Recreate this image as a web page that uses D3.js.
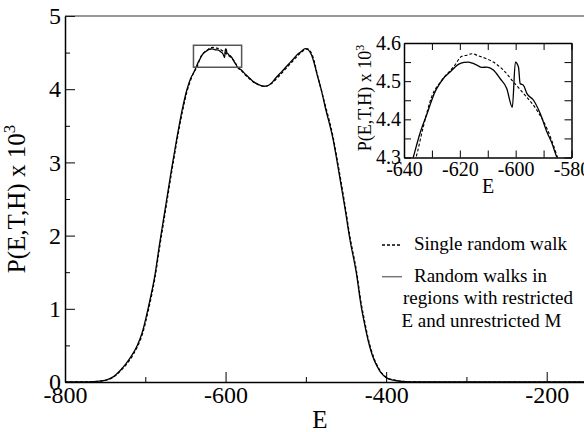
<!DOCTYPE html>
<html>
<head>
<meta charset="utf-8">
<script src="https://cdn.jsdelivr.net/npm/d3@7"></script>
<style>
  body { margin: 0; background: #fff; }
  .axis path, .axis line { stroke: #000; }
</style>
</head>
<body>
<div id="chart"></div>
<script>
const width = 584;
const height = 432;

// single random walk (dashed)
const singleWalk = [
  [-800, 0], [-780, 0.001], [-765, 0.004], [-755, 0.013], [-748, 0.027], [-740, 0.063],
  [-731, 0.15], [-724, 0.235], [-717, 0.34], [-710, 0.48], [-704, 0.64], [-696, 0.99],
  [-688, 1.42], [-682, 1.85], [-675, 2.33], [-668, 2.81], [-661, 3.27], [-654, 3.68],
  [-648, 3.97], [-643, 4.14], [-639, 4.24], [-635.7, 4.30], [-633.1, 4.38], [-630.1, 4.459],
  [-626.5, 4.502], [-622.3, 4.537], [-619.3, 4.565], [-617.5, 4.568], [-615.7, 4.572],
  [-613.5, 4.567], [-611.6, 4.562], [-608, 4.550], [-604.4, 4.529], [-600.8, 4.498],
  [-596.6, 4.463], [-592.4, 4.424], [-588.8, 4.376], [-585.9, 4.32], [-585, 4.30],
  [-580, 4.25], [-575, 4.19], [-570, 4.14], [-565, 4.095], [-560, 4.065], [-555, 4.045],
  [-551, 4.04], [-547, 4.05], [-542, 4.085], [-536, 4.15], [-530, 4.22], [-525, 4.28],
  [-520, 4.34], [-515, 4.40], [-510, 4.46], [-505, 4.51], [-501, 4.545], [-498, 4.55],
  [-494, 4.51], [-490, 4.40], [-487, 4.26], [-482, 4.04], [-476, 3.79], [-466, 3.34],
  [-458.6, 2.89], [-451.5, 2.43], [-445, 1.98], [-437, 1.52], [-431, 1.07], [-427, 0.84],
  [-422.5, 0.60], [-415, 0.32], [-410, 0.20], [-406, 0.13], [-400, 0.065], [-391, 0.028],
  [-380, 0.009], [-370, 0.002], [-350, 0], [-100, 0]
];

// random walks in restricted-E regions (solid)
const restrictedWalk = [
  [-800, 0], [-780, 0.001], [-765, 0.005], [-755, 0.015], [-748, 0.03], [-740, 0.07],
  [-731, 0.16], [-724, 0.25], [-717, 0.36], [-710, 0.50], [-704, 0.67], [-696, 1.03],
  [-688, 1.46], [-682, 1.90], [-675, 2.38], [-668, 2.86], [-661, 3.31], [-654, 3.72],
  [-648, 4.00], [-643, 4.16], [-640, 4.22], [-636.7, 4.30], [-634.3, 4.363], [-631.3, 4.424],
  [-630.7, 4.437], [-628.9, 4.472], [-627.5, 4.49], [-625.9, 4.507], [-623.5, 4.524],
  [-620.5, 4.544], [-618.5, 4.549], [-616.9, 4.550], [-615.5, 4.547], [-613.9, 4.542],
  [-612.1, 4.536], [-610.3, 4.537], [-608, 4.529], [-605.6, 4.507], [-603.2, 4.481],
  [-601.2, 4.432], [-600.1, 4.550], [-599.0, 4.537], [-598.4, 4.494], [-597.2, 4.489],
  [-596, 4.468], [-593.6, 4.45], [-591.2, 4.415], [-588.8, 4.367], [-587.0, 4.337],
  [-585.2, 4.30], [-580, 4.26], [-575, 4.20], [-570, 4.15], [-565, 4.10], [-560, 4.07],
  [-555, 4.045], [-552, 4.04], [-548, 4.045], [-543, 4.08], [-537, 4.16], [-530, 4.24],
  [-525, 4.30], [-520, 4.36], [-515, 4.42], [-510, 4.48], [-505, 4.52], [-501, 4.555],
  [-497, 4.54], [-493, 4.47], [-489, 4.33], [-486, 4.20], [-481, 4.00], [-476, 3.76],
  [-466, 3.31], [-458.6, 2.85], [-451.5, 2.39], [-445, 1.94], [-437, 1.48], [-431, 1.03],
  [-427, 0.80], [-422.5, 0.57], [-415, 0.30], [-410, 0.19], [-406, 0.12], [-400, 0.06],
  [-391, 0.025], [-380, 0.008], [-370, 0.002], [-350, 0], [-100, 0]
];

const xMajor = [-800, -600, -400, -200];
const xMinor = [-700, -500, -300];
const yMajor = [0, 1, 2, 3, 4, 5];
const yMinor = [0.5, 1.5, 2.5, 3.5, 4.5];

const insetXTicks = [-640, -620, -600, -580];
const insetXAll = [-640, -630, -620, -610, -600, -590, -580];
const insetYTicks = [4.3, 4.4, 4.5, 4.6];
const insetYAll = [4.3, 4.35, 4.4, 4.45, 4.5, 4.55, 4.6];
const zoomBox = { x0: -640, x1: -580, y0: 4.3, y1: 4.6 };

const legendItems = [
  { dash: "3,2", color: "#000", lines: ["Single random walk"] },
  { dash: null, color: "#777", lines: ["Random walks in", "regions with restricted", "E and unrestricted M"] }
];

const serif = "Liberation Serif";

const svg = d3.select("#chart").append("svg")
    .attr("width", width)
    .attr("height", height)
    .style("font-family", serif);

// hyphen instead of unicode minus, as in the reference
const plain = d => String(d);

// Escalas principais
const x = d3.scaleLinear().domain([-800, -100]).range([65, 627]);
const y = d3.scaleLinear().domain([0, 5]).range([382, 16]);

const line = d3.line()
    .x(d => x(d[0]))
    .y(d => y(d[1]))
    .curve(d3.curveMonotoneX);

const styleAxis = (g, size) => {
    g.attr("font-family", null);
    g.selectAll("text").attr("font-size", size).style("font-family", serif);
    g.select(".domain").attr("stroke-width", 1.5);
};

// minor ticks
svg.append("g").attr("class", "axis")
    .attr("transform", `translate(0,${y(0)})`)
    .call(d3.axisBottom(x).tickValues(xMinor).tickSize(-5).tickFormat(""))
    .call(g => g.select(".domain").remove());
svg.append("g").attr("class", "axis")
    .attr("transform", `translate(${x(-800)},0)`)
    .call(d3.axisLeft(y).tickValues(yMinor).tickSize(-5).tickFormat(""))
    .call(g => g.select(".domain").remove());

// major axes
svg.append("g").attr("class", "axis")
    .attr("transform", `translate(0,${y(0)})`)
    .call(d3.axisBottom(x).tickValues(xMajor).tickSize(-10).tickPadding(4).tickSizeOuter(0).tickFormat(plain))
    .call(g => styleAxis(g, 24));
svg.append("g").attr("class", "axis")
    .attr("transform", `translate(${x(-800)},0)`)
    .call(d3.axisLeft(y).tickValues(yMajor).tickSize(-10).tickPadding(4).tickSizeOuter(0).tickFormat(plain))
    .call(g => styleAxis(g, 24));

// top frame
svg.append("line")
    .attr("x1", x(-800)).attr("x2", x(-100))
    .attr("y1", y(5)).attr("y2", y(5))
    .attr("stroke", "#333").attr("stroke-width", 1.2);

// curves
svg.append("path").datum(singleWalk)
    .attr("d", line).attr("fill", "none")
    .attr("stroke", "#000").attr("stroke-width", 1.2).attr("stroke-dasharray", "3,2");
svg.append("path").datum(restrictedWalk)
    .attr("d", line).attr("fill", "none")
    .attr("stroke", "#000").attr("stroke-width", 1.3);

// zoom rectangle
svg.append("rect")
    .attr("x", x(zoomBox.x0)).attr("y", y(zoomBox.y1))
    .attr("width", x(zoomBox.x1) - x(zoomBox.x0))
    .attr("height", y(zoomBox.y0) - y(zoomBox.y1))
    .attr("fill", "none").attr("stroke", "#555").attr("stroke-width", 1.5);

// axis titles
svg.append("text")
    .attr("x", 320).attr("y", 428)
    .attr("text-anchor", "middle").attr("font-size", 25)
    .text("E");

const yTitle = svg.append("text")
    .attr("transform", "translate(25,199) rotate(-90)")
    .attr("text-anchor", "middle").attr("font-size", 25);
yTitle.append("tspan").text("P(E,T,H) x 10");
yTitle.append("tspan").attr("dy", -10).attr("font-size", 17).text("3");

// legend
const lg = svg.append("g").attr("class", "legend");
legendItems.forEach((item, i) => {
    const ypos = i === 0 ? 245 : 276.7;
    lg.append("line")
        .attr("x1", 382).attr("x2", 402)
        .attr("y1", ypos).attr("y2", ypos)
        .attr("stroke", item.color).attr("stroke-width", 1.5)
        .attr("stroke-dasharray", item.dash);
    item.lines.forEach((t, j) => {
        lg.append("text")
            .attr("x", j === 0 ? 414 : (j === 1 ? 403 : 401.5))
            .attr("y", ypos + 5 + j * 22.5)
            .attr("font-size", 19)
            .text(t);
    });
});

// inset
const ix = d3.scaleLinear().domain([-640, -580]).range([404, 571.5]);
const iy = d3.scaleLinear().domain([4.3, 4.6]).range([157.5, 43]);
const inset = svg.append("g").attr("class", "inset");

inset.append("rect")
    .attr("x", ix(-640)).attr("y", iy(4.6))
    .attr("width", ix(-580) - ix(-640)).attr("height", iy(4.3) - iy(4.6))
    .attr("fill", "#fff");

svg.append("defs").append("clipPath").attr("id", "insetClip")
    .append("rect")
    .attr("x", ix(-640)).attr("y", iy(4.6))
    .attr("width", ix(-580) - ix(-640)).attr("height", iy(4.3) - iy(4.6));

const iline = d3.line()
    .x(d => ix(d[0]))
    .y(d => iy(d[1]))
    .curve(d3.curveMonotoneX);

const curves = inset.append("g").attr("clip-path", "url(#insetClip)");
curves.append("path").datum(singleWalk)
    .attr("d", iline).attr("fill", "none")
    .attr("stroke", "#000").attr("stroke-width", 1.1).attr("stroke-dasharray", "3,2");
curves.append("path").datum(restrictedWalk)
    .attr("d", iline).attr("fill", "none")
    .attr("stroke", "#000").attr("stroke-width", 1.3);

// inset ticks on all four sides
inset.append("g").attr("class", "axis")
    .attr("transform", `translate(0,${iy(4.3)})`)
    .call(d3.axisBottom(ix).tickValues(insetXAll).tickSize(-7).tickSizeOuter(0).tickPadding(4)
        .tickFormat(d => insetXTicks.includes(d) ? String(d) : ""))
    .call(g => styleAxis(g, 20));
inset.append("g").attr("class", "axis")
    .attr("transform", `translate(0,${iy(4.6)})`)
    .call(d3.axisTop(ix).tickValues(insetXAll).tickSize(-7).tickSizeOuter(0).tickFormat(""))
    .call(g => styleAxis(g, 20));
inset.append("g").attr("class", "axis")
    .attr("transform", `translate(${ix(-640)},0)`)
    .call(d3.axisLeft(iy).tickValues(insetYAll).tickSize(-7).tickSizeOuter(0).tickPadding(3)
        .tickFormat(d => insetYTicks.includes(d) ? d3.format(".1f")(d) : ""))
    .call(g => styleAxis(g, 20));
inset.append("g").attr("class", "axis")
    .attr("transform", `translate(${ix(-580)},0)`)
    .call(d3.axisRight(iy).tickValues(insetYAll).tickSize(-7).tickSizeOuter(0).tickFormat(""))
    .call(g => styleAxis(g, 20));

inset.append("text")
    .attr("x", 488).attr("y", 193)
    .attr("text-anchor", "middle").attr("font-size", 20)
    .text("E");

const iyTitle = inset.append("text")
    .attr("transform", "translate(371,98) rotate(-90)")
    .attr("text-anchor", "middle").attr("font-size", 18);
iyTitle.append("tspan").text("P(E,T,H) x 10");
iyTitle.append("tspan").attr("dy", -7).attr("font-size", 12).text("3");

svg.selectAll("text").style("font-family", serif);
</script>
</body>
</html>
